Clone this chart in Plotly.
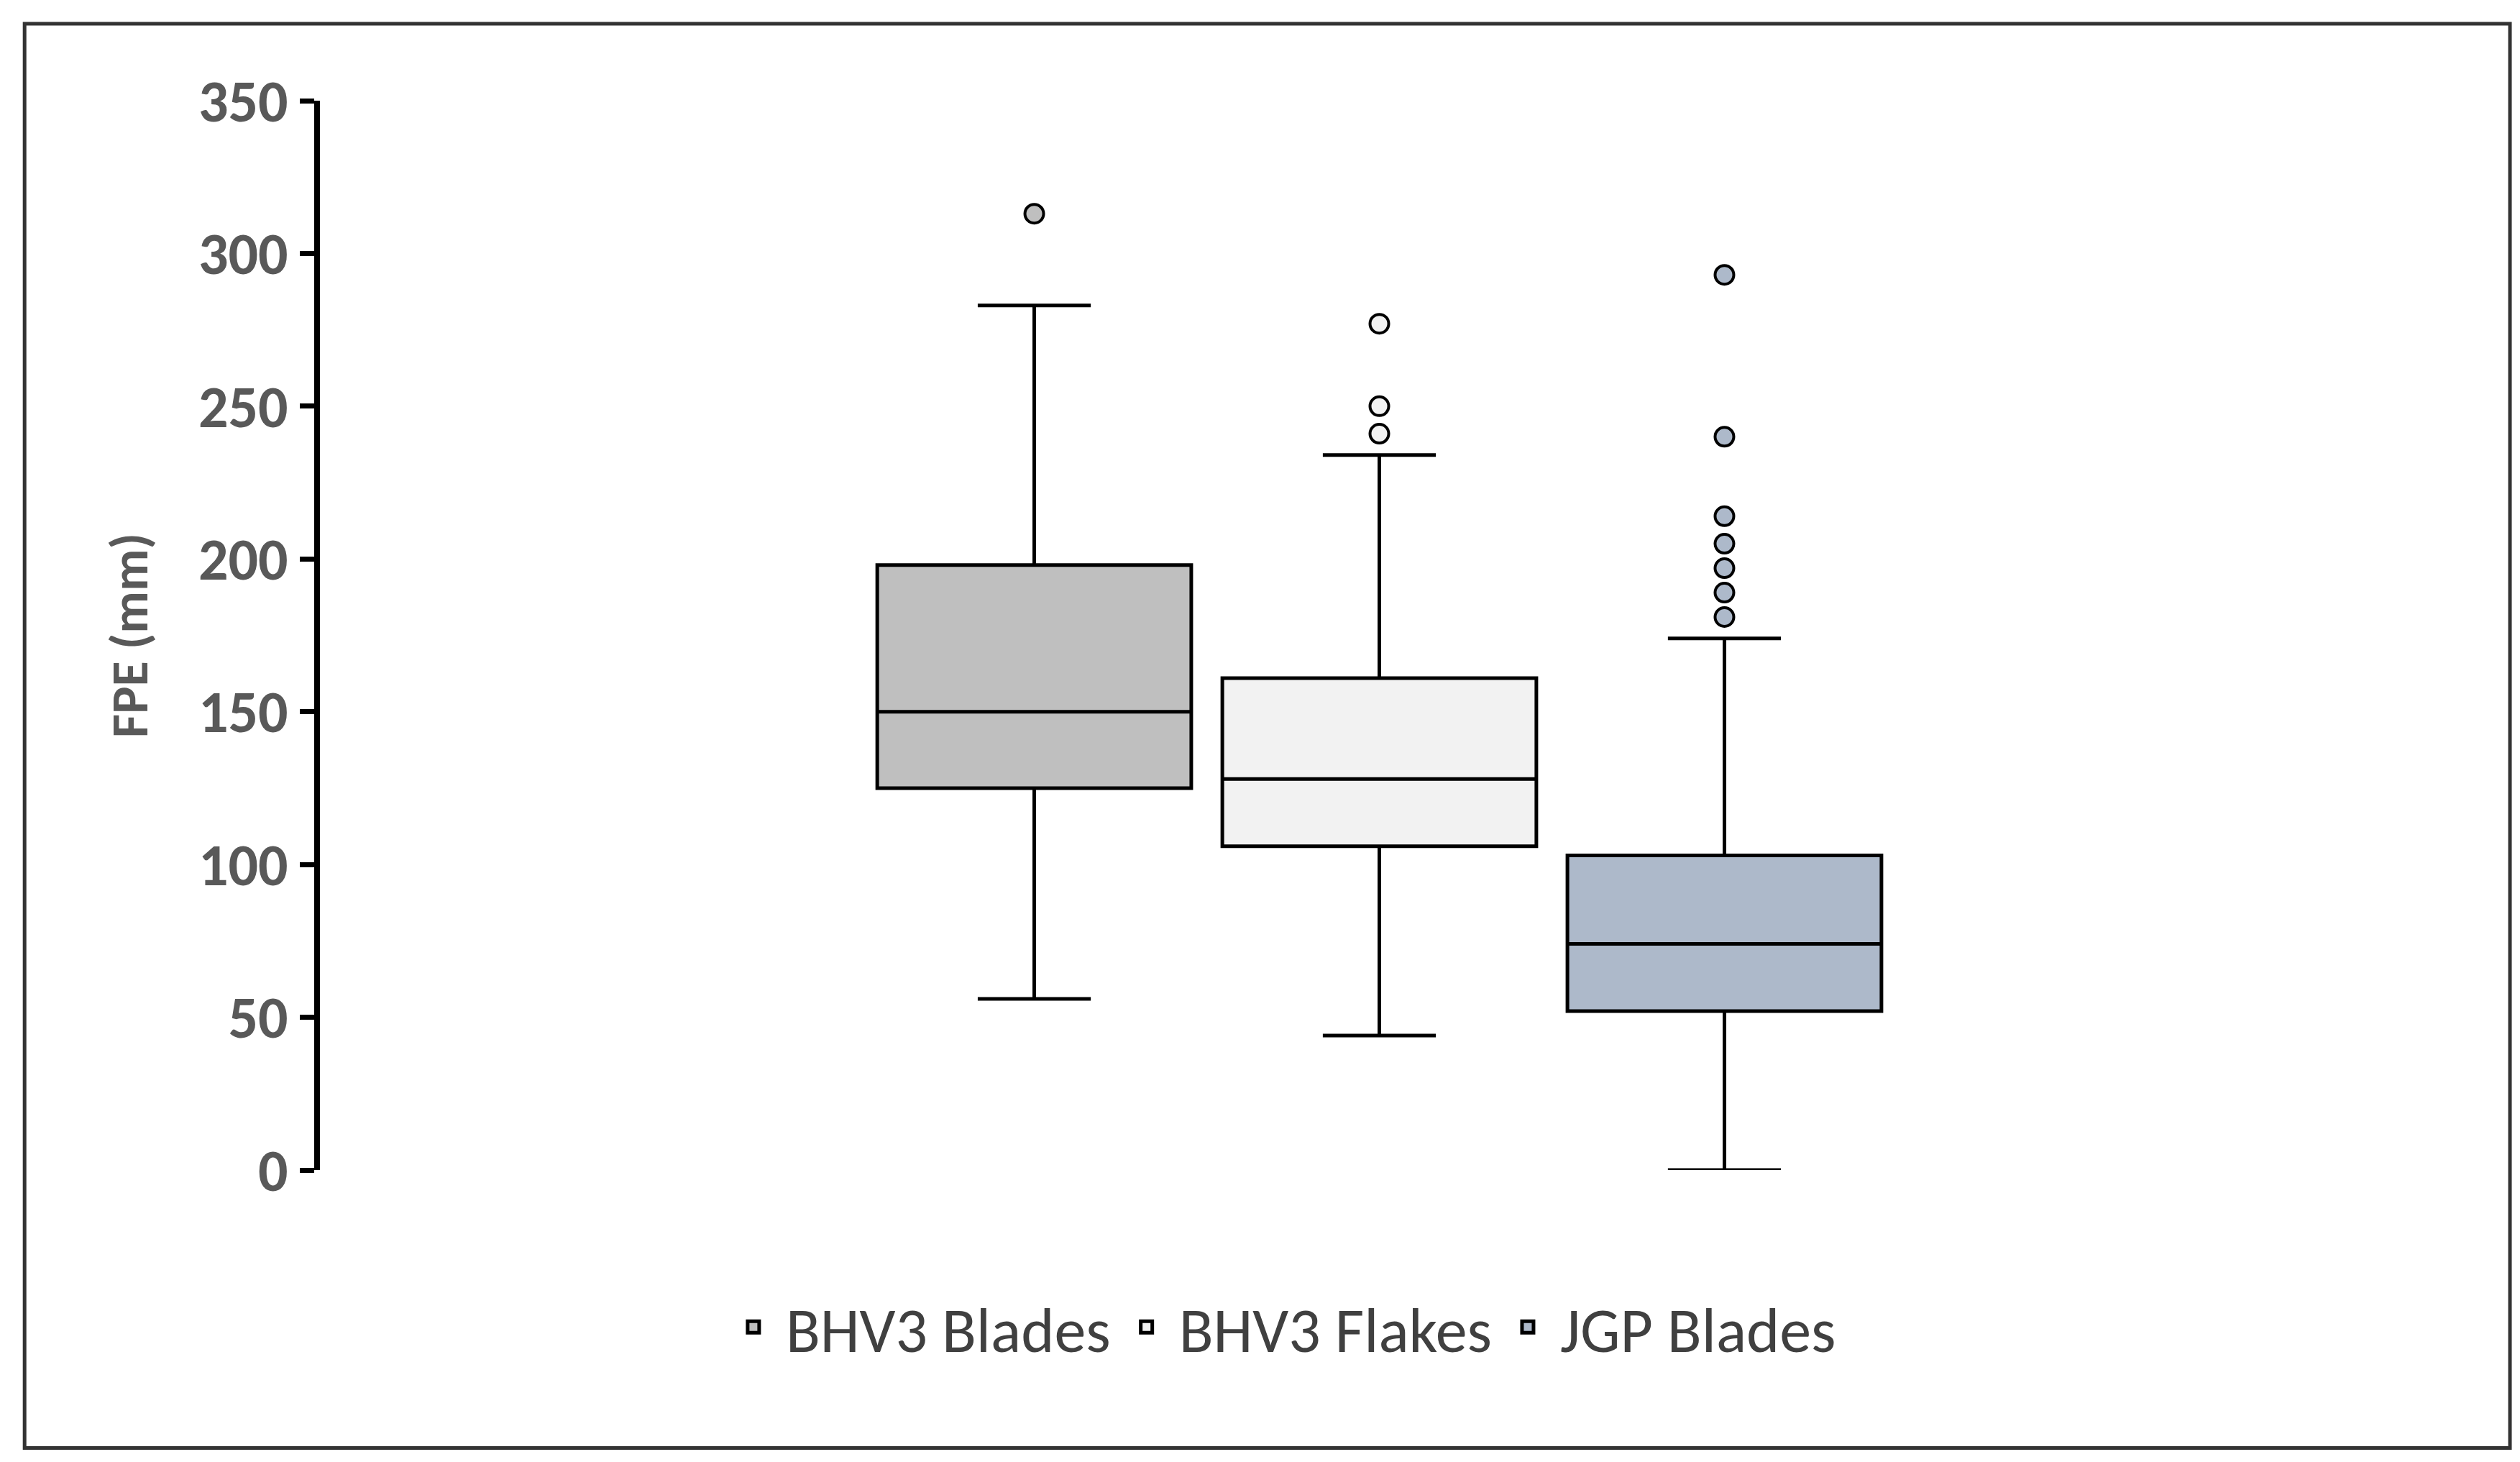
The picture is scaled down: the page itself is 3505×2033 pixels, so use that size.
import plotly.graph_objects as go

categories = ["BHV3 Blades", "BHV3 Flakes", "JGP Blades"]
lower = [56, 44, 0]
q1 = [125, 106, 52]
median = [150, 128, 74]
q3 = [198, 161, 103]
upper = [283, 234, 174]
outliers = [[313], [241, 250, 277], [181, 189, 197, 205, 214, 240, 293]]
colors = ["#bfbfbf", "#f2f2f2", "#adb9ca"]
positions = [0, 1, 2]
yticks = [0, 50, 100, 150, 200, 250, 300, 350]

fig = go.Figure()
for i, name in enumerate(categories):
    fig.add_trace(go.Box(
        name=name, x=[positions[i]], q1=[q1[i]], median=[median[i]], q3=[q3[i]],
        lowerfence=[lower[i]], upperfence=[upper[i]], boxpoints=False,
        fillcolor=colors[i], line=dict(color="black", width=5), width=0.91,
        whiskerwidth=0.36, showlegend=False))
for i, pts in enumerate(outliers):
    fig.add_trace(go.Scatter(
        x=[positions[i]] * len(pts), y=pts, mode="markers", showlegend=False,
        marker=dict(size=26, color=colors[i], line=dict(color="black", width=4))))
for i, name in enumerate(categories):
    fig.add_trace(go.Scatter(
        x=[None], y=[None], mode="markers", name=name, showlegend=True,
        marker=dict(symbol="square", size=64, color=colors[i], line=dict(color="black", width=5))))

fig.add_shape(type="rect", xref="paper", yref="paper", x0=-0.135, x1=1.001, y0=-0.26, y1=1.072,
              line=dict(color="#333333", width=5))

font = "Carlito, Calibri, Lato, sans-serif"
fig.update_layout(
    width=3505, height=2033, plot_bgcolor="white", paper_bgcolor="white",
    margin=dict(l=437, r=25, t=132, b=414), boxmode="overlay",
    xaxis=dict(range=[-2.07, 4.27], visible=False),
    yaxis=dict(range=[0, 350], tickvals=yticks, showgrid=False, zeroline=False,
               showline=True, linecolor="black", linewidth=8, ticks="outside",
               ticklen=20, tickwidth=7, tickcolor="black",
               tickfont=dict(family=font, size=82, color="#595959", weight="bold"),
               title=dict(text="FPE (mm)", standoff=50,
                          font=dict(family=font, size=72, color="#595959", weight="bold"))),
    legend=dict(orientation="h", x=0.439, xanchor="center", y=-0.147, yanchor="middle",
                font=dict(family=font, size=88, color="#404040"), itemwidth=80),
)
fig.write_html("out.html")
